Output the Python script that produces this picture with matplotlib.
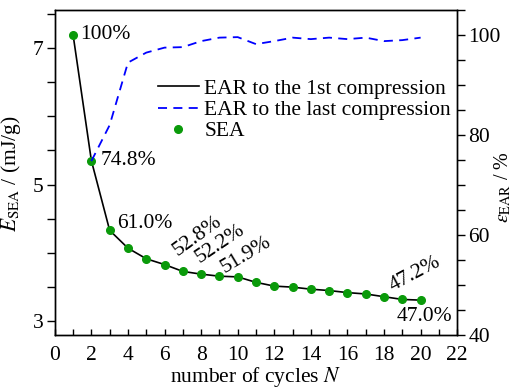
import numpy as np
import matplotlib
matplotlib.use('Agg')
import matplotlib.pyplot as plt
from matplotlib.ticker import MultipleLocator, FixedLocator

plt.rcParams['font.family'] = ['Liberation Serif', 'DejaVu Serif']
plt.rcParams['mathtext.fontset'] = 'stix'
plt.rcParams['font.size'] = 15.5

cycles = np.arange(1, 21)
sea = [7.19, 5.35, 4.33, 4.07, 3.915, 3.83, 3.73, 3.69, 3.66, 3.65,
       3.57, 3.515, 3.50, 3.47, 3.45, 3.42, 3.40, 3.36, 3.32, 3.31]
cycles_last = np.arange(2, 21)
ear_last = [74.8, 82.0, 94.5, 96.5, 97.5, 97.6, 98.8, 99.5, 99.6, 98.2,
            98.8, 99.5, 99.2, 99.5, 99.2, 99.5, 98.8, 99.0, 99.5]

# percentage labels: text, x, y, rotation, ha, va
labels = [('100%', 1.37, 7.19, 0, 'left', 'center'),
          ('74.8%', 2.5, 5.35, 0, 'left', 'center'),
          ('61.0%', 3.39, 4.43, 0, 'left', 'center'),
          ('52.8%', 6.73, 3.96, 36, 'left', 'baseline'),
          ('52.2%', 7.94, 3.86, 34, 'left', 'baseline'),
          ('51.9%', 9.3, 3.70, 31, 'left', 'baseline'),
          ('47.2%', 18.45, 3.45, 28, 'left', 'baseline'),
          ('47.0%', 21.73, 3.07, 0, 'right', 'center')]

fig = plt.figure(figsize=(5.12, 3.9), dpi=100)
ax = fig.add_axes([0.107, 0.141, 0.786, 0.833])
ax2 = ax.twinx()

l1, = ax.plot(cycles, sea, color='black', lw=1.2, label='EAR to the 1st compression')
pts, = ax.plot(cycles, sea, 'o', color='#0a9a0a', ms=5.5, label='SEA', zorder=5)
l2, = ax2.plot(cycles_last, ear_last, '--', color='#0000ff', lw=1.3, dashes=(5, 3.5),
               label='EAR to the last compression')

for txt, x, y, rot, ha, va in labels:
    ax.text(x, y, txt, rotation=rot, ha=ha, va=va, rotation_mode='anchor')

ax.set_xlim(0, 22)
ax.set_ylim(2.8, 7.55)
ax2.set_ylim(40, 105)
ax.xaxis.set_major_locator(MultipleLocator(2))
ax.xaxis.set_minor_locator(MultipleLocator(1))
ax.yaxis.set_major_locator(FixedLocator([3, 5, 7]))
ax.yaxis.set_minor_locator(MultipleLocator(0.5))
ax2.yaxis.set_major_locator(MultipleLocator(20))
ax2.yaxis.set_minor_locator(MultipleLocator(5))

ax.tick_params(axis='x', which='both', direction='in', length=4, width=1, pad=8)
ax.tick_params(axis='y', which='both', direction='out', length=6, width=1, pad=2)
ax2.tick_params(axis='y', which='both', direction='out', length=6, width=1, pad=2)
for a in (ax, ax2):
    for s in a.spines.values():
        s.set_linewidth(1.0)

ax.set_xlabel('number of cycles $N$', labelpad=0)
ax.set_ylabel(r'$E_{\rm SEA}$ / (mJ/g)')
ax.yaxis.set_label_coords(-0.078, 0.495)
ax2.set_ylabel(r'$\varepsilon_{\rm EAR}$ / %', fontsize=14.5)
ax2.yaxis.set_label_coords(1.088, 0.455)

ax.legend([l1, l2, pts], [l1.get_label(), l2.get_label(), pts.get_label()],
          loc='upper left', bbox_to_anchor=(0.235, 0.815), frameon=False,
          borderaxespad=0, labelspacing=0.05, handlelength=1.9, handletextpad=0.25)

fig.savefig('out.png', dpi=100)
